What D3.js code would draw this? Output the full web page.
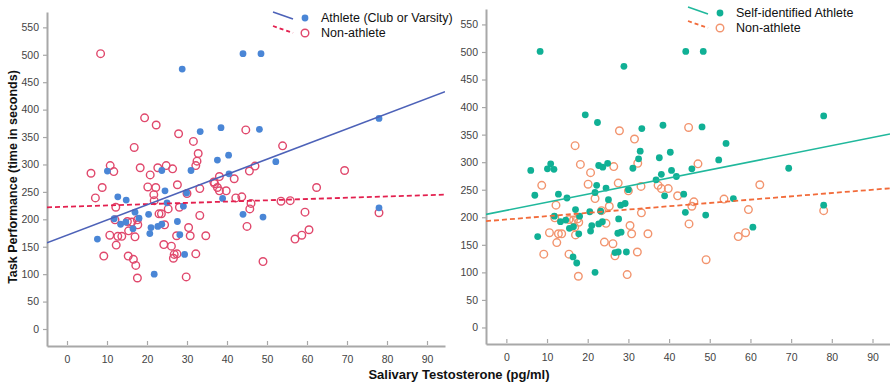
<!DOCTYPE html>
<html><head><meta charset="utf-8">
<script src="https://cdn.jsdelivr.net/npm/d3@7/dist/d3.min.js"></script>
<style>
body{margin:0;background:#fff;}
svg{display:block;font-family:"Liberation Sans",Arial,sans-serif;}
</style></head>
<body><svg id="c" width="890" height="384"></svg>
<script>
// ---- Data (Salivary Testosterone pg/ml, Task Performance s) ----
const xTicks = [0,10,20,30,40,50,60,70,80,90];
const yTicks = [0,50,100,150,200,250,300,350,400,450,500,550];

// Left panel: Athlete (Club or Varsity)
const clubPts = [[44,502],[48.5,502],[28.8,474],[33.3,360],[38.5,367],[48.1,364],[78,384],[37.6,308],[40.4,317],[52.2,305],[10.1,288],[23.7,289],[31,289],[40.5,283],[24.5,252],[12.7,241],[14.8,235],[25,230],[29.9,248],[38.9,238],[29.1,224],[11.8,201],[13.4,191],[14.7,195],[17,213],[18,202],[16.5,183],[20.4,209],[21,185],[20.7,174],[22.7,187],[23.7,191],[27.6,196],[28.2,172],[7.6,164],[29.4,136],[21.8,100],[44,209],[49,204],[78,221]];
// Left panel: Non-athlete
const nonClubPts = [[8.4,502],[19.4,385],[22.3,372],[27.9,356],[44.7,363],[16.8,331],[31.6,342],[53.9,334],[32.8,320],[32.5,306],[32.2,298],[10.8,298],[6,284],[11.7,287],[18.3,294],[22.7,294],[24.8,298],[26.4,292],[20.8,281],[45.6,288],[47,297],[69.4,289],[38.1,278],[41.8,274],[36.7,268],[36.9,265],[8.8,258],[20.2,259],[22.2,258],[27.6,263],[33.2,256],[37.6,258],[38.1,252],[39.8,252],[62.4,258],[7.1,239],[12.2,222],[21.7,245],[21.8,234],[30,247],[42.2,239],[43.7,241],[46,229],[45.7,219],[53.5,233],[55.8,234],[28.1,222],[25.3,219],[23,210],[23.6,210],[12,199],[15.1,196],[16.2,195],[17.6,199],[17.7,190],[15.4,179],[24.4,190],[33.2,207],[10.7,171],[12.7,169],[13.7,169],[17,168],[12.3,153],[24.2,154],[26.1,151],[27.4,170],[30.4,185],[30.8,170],[34.7,170],[45,187],[59.5,213],[60.5,181],[57,164],[58.7,171],[9.2,133],[15.3,133],[16.6,127],[17.2,116],[17.6,93],[26.6,129],[26.8,136],[27.5,137],[32.2,137],[29.8,95],[49,123],[78,212]];

// Right panel: Self-identified Athlete
const selfPts = [[6,285],[8.3,501],[10.1,288],[10.9,297],[11.7,287],[19.4,386],[22.4,372],[22.7,294],[23.7,291],[24.9,298],[22.2,258],[24.5,253],[28.9,474],[30,250],[31.1,289],[33.3,361],[32.5,306],[32.9,320],[37.6,308],[38.5,367],[38.1,278],[40.3,318],[40.6,285],[41.8,274],[36.8,268],[44.1,501],[48.4,501],[48.1,364],[45.6,288],[52.2,304],[54,334],[69.4,289],[78,384],[7,240],[12.8,242],[14.9,235],[25.1,232],[21.8,245],[38.9,239],[43.6,242],[55.8,234],[28.1,222],[29.2,225],[11.8,202],[13.3,192],[14.6,195],[17,214],[18,202],[15.5,180],[16.5,183],[20.5,210],[23.2,211],[21,185],[20.7,175],[22.7,188],[23.6,192],[27.6,197],[27.4,171],[28.2,173],[7.7,165],[17.8,170],[16.4,128],[17.3,117],[21.8,100],[26.7,136],[27.5,137],[29.5,137],[44,209],[49,204],[60.6,182],[78,222]];
// Right panel: Non-athlete
const nonSelfPts = [[8.7,258],[16.9,330],[18.2,296],[20.7,281],[20.1,260],[26.4,292],[27.8,357],[31.5,342],[32.3,298],[27.5,262],[33.1,256],[37.3,258],[38.1,252],[39.8,252],[44.8,363],[47.1,297],[62.3,259],[12.2,222],[21.8,234],[11.9,199],[15.4,196],[16.5,195],[17.5,197],[16.8,182],[17.8,191],[17,168],[10.6,172],[12.8,170],[13.6,170],[12.4,154],[9.2,133],[15.4,133],[17.7,93],[23.4,212],[25.3,220],[24.5,189],[24.1,155],[26.2,152],[26.7,130],[30.4,185],[30.8,170],[33.2,208],[34.8,170],[32.2,137],[29.7,96],[42.1,239],[45.6,220],[46.1,228],[44.9,188],[53.5,233],[49.1,123],[59.5,214],[57,165],[58.8,172],[78,212],[30,248]];

// Fit lines [intercept, slope] as drawn
const clubFit = [171, 2.77];
const nonClubFit = [223, 0.233];
const selfFit = [212.5, 1.47];
const nonSelfFit = [196, 0.60];

const legendLeft = ["Athlete (Club or Varsity)", "Non-athlete"];
const legendRight = ["Self-identified Athlete", "Non-athlete"];

const svg = d3.select("#c");

function panel(o){
  const g = svg.append("g");
  const x = d3.scaleLinear().domain(o.xd).range(o.xr);
  const y = d3.scaleLinear().domain(o.yd).range(o.yr);
  // axes
  const ya = g.append("g").attr("transform",`translate(${o.xr[0]},0)`)
    .call(d3.axisLeft(y).tickValues(yTicks).tickSizeInner(4).tickSizeOuter(0).tickPadding(4));
  const xa = g.append("g").attr("transform",`translate(0,${o.yr[0]})`)
    .call(d3.axisBottom(x).tickValues(xTicks).tickSizeInner(-5).tickSizeOuter(0).tickPadding(10));
  [ya,xa].forEach(a=>{
    a.select(".domain").attr("stroke","#a8a8a8").attr("stroke-width",2);
    a.selectAll(".tick line").attr("stroke","#a8a8a8").attr("stroke-width",1.2);
    a.selectAll(".tick text").attr("fill","#444").attr("font-size",10.5);
  });
  xa.selectAll(".tick line").attr("y1",-1);
  // points
  const clip = "clip"+o.id;
  g.append("clipPath").attr("id",clip).append("rect")
    .attr("x",o.xr[0]).attr("y",o.yr[1]).attr("width",o.xr[1]-o.xr[0]).attr("height",o.yr[0]-o.yr[1]);
  const pg = g.append("g").attr("clip-path",`url(#${clip})`);
  pg.selectAll("circle.open").data(o.openPts).join("circle").attr("class","open")
    .attr("cx",d=>x(d[0])).attr("cy",d=>y(d[1])).attr("r",3.8)
    .attr("fill","none").attr("stroke",o.openColor).attr("stroke-width",1.4);
  pg.selectAll("circle.fill").data(o.fillPts).join("circle").attr("class","fill")
    .attr("cx",d=>x(d[0])).attr("cy",d=>y(d[1])).attr("r",3.4)
    .attr("fill",o.fillColor);
  // fit lines
  const line = d3.line().x(d=>x(d)).y(d=>y(0));
  const fitLine = (f,color,dash,w)=>{
    const xs = o.xd;
    pg.append("line").attr("x1",x(xs[0])).attr("x2",x(xs[1]))
      .attr("y1",y(f[0]+f[1]*xs[0])).attr("y2",y(f[0]+f[1]*xs[1]))
      .attr("stroke",color).attr("stroke-width",w).attr("stroke-dasharray",dash);
  };
  fitLine(o.openFit,o.openLine,"5,3",1.8);
  fitLine(o.fillFit,o.fillLine,null,1.6);
  // legend
  const L = o.leg;
  const lg = svg.append("g");
  lg.append("line").attr("x1",L.x).attr("y1",L.y-9).attr("x2",L.x+20).attr("y2",L.y-2)
    .attr("stroke",o.fillLine).attr("stroke-width",1.6);
  lg.append("circle").attr("cx",L.x+32).attr("cy",L.y-3).attr("r",3.4).attr("fill",o.fillColor);
  lg.append("text").attr("x",L.x+48).attr("y",L.y-3).attr("dy","0.35em").attr("font-size",12.5).attr("fill","#111").text(o.legText[0]);
  lg.append("line").attr("x1",L.x).attr("y1",L.y+5).attr("x2",L.x+20).attr("y2",L.y+12)
    .attr("stroke",o.openLine).attr("stroke-width",1.8).attr("stroke-dasharray","4,3");
  lg.append("circle").attr("cx",L.x+32).attr("cy",L.y+12).attr("r",3.8).attr("fill","none").attr("stroke",o.openColor).attr("stroke-width",1.4);
  lg.append("text").attr("x",L.x+48).attr("y",L.y+12).attr("dy","0.35em").attr("font-size",12.5).attr("fill","#111").text(o.legText[1]);
}

panel({id:"L", xd:[-5,94.5], xr:[47,445], yd:[-31,578], yr:[346,12],
  fillPts:clubPts, openPts:nonClubPts, fillColor:"#4a86d6", openColor:"#e0486c",
  fillLine:"#4d62b8", openLine:"#e3204f", fillFit:clubFit, openFit:nonClubFit,
  leg:{x:273,y:21}, legText:legendLeft});
panel({id:"R", xd:[-5,94.3], xr:[486,890], yd:[-30,578], yr:[344,9],
  fillPts:selfPts, openPts:nonSelfPts, fillColor:"#10b095", openColor:"#f2946e",
  fillLine:"#20b89c", openLine:"#f26b3a", fillFit:selfFit, openFit:nonSelfFit,
  leg:{x:688,y:16}, legText:legendRight});

svg.append("text").attr("transform","translate(17,177) rotate(-90)")
  .attr("text-anchor","middle").attr("font-weight","bold").attr("font-size",12.5).attr("fill","#111")
  .text("Task Performance (time in seconds)");
svg.append("text").attr("x",459).attr("y",379)
  .attr("text-anchor","middle").attr("font-weight","bold").attr("font-size",13).attr("fill","#111")
  .text("Salivary Testosterone (pg/ml)");
</script></body></html>
